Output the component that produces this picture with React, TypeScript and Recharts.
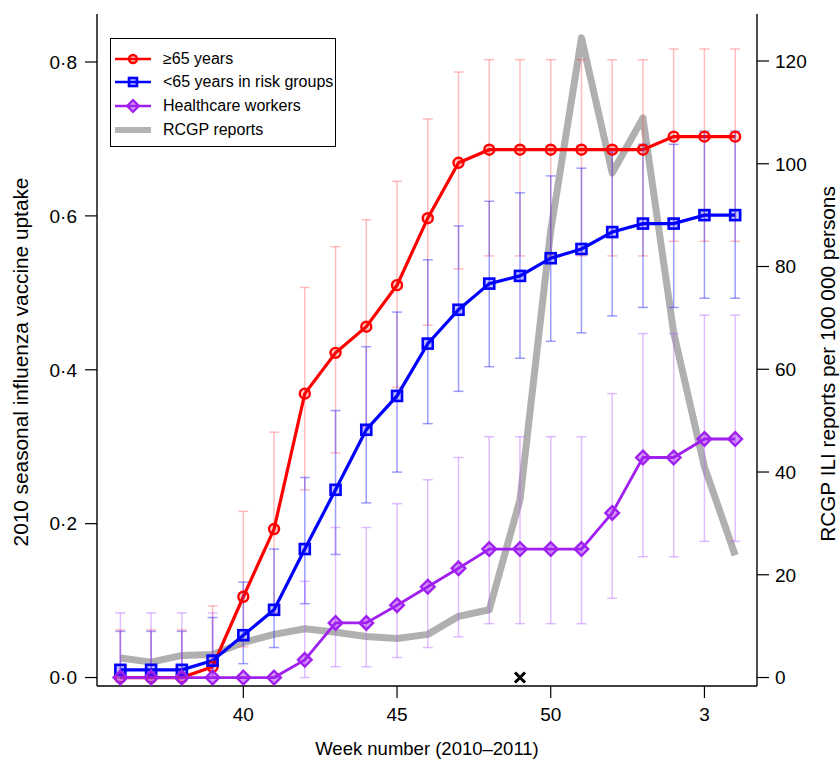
import { ComposedChart, Line, XAxis, YAxis, ErrorBar, Scatter, Legend, Label } from 'recharts';

// ISO weeks, 2010 season into 2011
const weeks = [36, 37, 38, 39, 40, 41, 42, 43, 44, 45, 46, 47, 48, 49, 50, 51, 52, 1, 2, 3, 4];
const tickWeeks = [40, 45, 50, 3];
const markedWeeks = [49];

// vaccine uptake, >=65 years
const over65 = [0, 0, 0, 0.014, 0.105, 0.193, 0.369, 0.422, 0.456, 0.51, 0.597, 0.669, 0.686, 0.686, 0.686, 0.686, 0.686, 0.686, 0.703, 0.703, 0.703];
const over65Low = [0, 0, 0, 0, 0.04, 0.084, 0.244, 0.292, 0.326, 0.377, 0.458, 0.531, 0.548, 0.548, 0.548, 0.548, 0.548, 0.548, 0.567, 0.567, 0.567];
const over65High = [0.062, 0.062, 0.062, 0.093, 0.216, 0.319, 0.507, 0.56, 0.595, 0.645, 0.726, 0.787, 0.803, 0.803, 0.803, 0.803, 0.803, 0.803, 0.817, 0.817, 0.817];

// <65 years in risk groups
const under65 = [0.01, 0.01, 0.01, 0.022, 0.055, 0.088, 0.167, 0.244, 0.322, 0.366, 0.434, 0.478, 0.512, 0.522, 0.545, 0.557, 0.579, 0.59, 0.59, 0.601, 0.601];
const under65Low = [0, 0, 0, 0, 0.018, 0.039, 0.096, 0.16, 0.227, 0.267, 0.33, 0.372, 0.404, 0.415, 0.437, 0.448, 0.47, 0.481, 0.481, 0.493, 0.493];
const under65High = [0.06, 0.06, 0.06, 0.078, 0.124, 0.167, 0.26, 0.347, 0.43, 0.475, 0.543, 0.587, 0.619, 0.63, 0.652, 0.662, 0.683, 0.693, 0.693, 0.71, 0.71];

// healthcare workers
const hcw = [0, 0, 0, 0, 0, 0, 0.023, 0.071, 0.071, 0.094, 0.118, 0.142, 0.167, 0.167, 0.167, 0.167, 0.214, 0.286, 0.286, 0.31, 0.31];
const hcwLow = [0, 0, 0, 0, 0, 0, 0, 0.014, 0.014, 0.026, 0.039, 0.053, 0.07, 0.07, 0.07, 0.07, 0.103, 0.157, 0.157, 0.177, 0.177];
const hcwHigh = [0.084, 0.084, 0.084, 0.084, 0, 0, 0.125, 0.195, 0.195, 0.226, 0.257, 0.286, 0.313, 0.313, 0.313, 0.313, 0.369, 0.447, 0.447, 0.471, 0.471];

// RCGP ILI reports per 100 000
const rcgp = [3.8, 3.0, 4.3, 4.5, 6.8, 8.4, 9.5, 8.8, 8.0, 7.6, 8.4, 11.9, 13.2, 34.6, 87, 124.5, 98.2, 108.9, 67.1, 41, 23.8];

const legendItems = [
  { label: '≥65 years', color: '#ff0000', shape: 'circle' },
  { label: '<65 years in risk groups', color: '#0000ff', shape: 'square' },
  { label: 'Healthcare workers', color: '#a020f0', shape: 'diamond' },
  { label: 'RCGP reports', color: '#b3b3b3', shape: 'none' },
];

const data = weeks.map((w, i) => ({
  idx: i,
  week: w,
  over65: over65[i],
  over65Err: [over65[i] - over65Low[i], over65High[i] - over65[i]],
  under65: under65[i],
  under65Err: [under65[i] - under65Low[i], under65High[i] - under65[i]],
  hcw: hcw[i],
  hcwErr: [hcw[i] - hcwLow[i], hcwHigh[i] - hcw[i]],
  rcgp: rcgp[i],
}));

const markData = markedWeeks.map((w) => ({ idx: weeks.indexOf(w), mark: 0 }));

const FONT = '"Liberation Sans", Arial, Helvetica, sans-serif';

const Marker = ({ cx, cy, shape, color, size = 5 }: any) => {
  if (cx == null || cy == null) return null;
  if (shape === 'circle')
    return <circle cx={cx} cy={cy} r={size} fill={color} fillOpacity={0.2} stroke={color} strokeWidth={2.4} />;
  if (shape === 'square')
    return <rect x={cx - size} y={cy - size} width={size * 2} height={size * 2} fill={color} fillOpacity={0.25} stroke={color} strokeWidth={2.6} />;
  if (shape === 'diamond') {
    const s = size + 1.8;
    return (
      <polygon
        points={`${cx},${cy - s} ${cx + s},${cy} ${cx},${cy + s} ${cx - s},${cy}`}
        fill={color}
        fillOpacity={0.45}
        stroke={color}
        strokeWidth={2.4}
      />
    );
  }
  return null;
};

const dotFor = (shape: string, color: string) => (p: any) => <Marker key={p.index} cx={p.cx} cy={p.cy} shape={shape} color={color} />;

const Cross = ({ cx, cy }: any) => (
  <g stroke="#000" strokeWidth={3}>
    <line x1={cx - 5} y1={cy - 5} x2={cx + 5} y2={cy + 5} />
    <line x1={cx - 5} y1={cy + 5} x2={cx + 5} y2={cy - 5} />
  </g>
);

const LegendBox = () => (
  <div style={{ border: '1.5px solid #000', background: '#fff', width: 226, height: 109, paddingTop: 8, boxSizing: 'border-box', fontFamily: FONT, fontSize: 16 }}>
    {legendItems.map((it) => (
      <div key={it.label} style={{ display: 'flex', alignItems: 'center', height: 23.6 }}>
        <svg width={52} height={20} style={{ flex: 'none' }}>
          <line x1={4} y1={10} x2={40} y2={10} stroke={it.color} strokeWidth={it.shape === 'none' ? 6 : 2.5} />
          <Marker cx={22} cy={10} shape={it.shape} color={it.color} size={4} />
        </svg>
        <span style={{ color: '#000', whiteSpace: 'nowrap' }}>{it.label}</span>
      </div>
    ))}
  </div>
);

export default function App() {
  const domainX: [number, number] = [-0.76, 20.71];
  return (
    <div style={{ position: 'absolute', left: 0, top: 0, background: '#fff' }}>
      <ComposedChart width={840} height={761} data={data} margin={{ top: 14, right: 0, bottom: 0, left: 0 }} style={{ fontFamily: FONT }}>
        <XAxis
          dataKey="idx"
          type="number"
          domain={domainX}
          allowDataOverflow
          ticks={tickWeeks.map((w) => weeks.indexOf(w))}
          tickFormatter={(v: number) => String(weeks[v])}
          height={75}
          tickSize={12}
          tickMargin={10}
          axisLine={{ stroke: '#000', strokeWidth: 1.4 }}
          tickLine={{ stroke: '#000', strokeWidth: 1.2 }}
          tick={{ fill: '#000', fontSize: 19 }}
        >
          <Label
            content={() => (
              <text x={427} y={748} textAnchor="middle" dominantBaseline="central" fontSize={18.5} fill="#000">
                Week number (2010–2011)
              </text>
            )}
          />
        </XAxis>
        <XAxis xAxisId="top" orientation="top" dataKey="idx" type="number" domain={domainX} allowDataOverflow height={0} tick={false} tickLine={false} axisLine={{ stroke: '#000', strokeWidth: 1.4 }} />
        <YAxis
          yAxisId="left"
          type="number"
          domain={[-0.011, 0.8624]}
          allowDataOverflow
          ticks={[0, 0.2, 0.4, 0.6, 0.8]}
          tickFormatter={(v: number) => v.toFixed(1).replace('.', '·')}
          width={97}
          tickSize={12}
          tickMargin={8}
          axisLine={{ stroke: '#000', strokeWidth: 1.4 }}
          tickLine={{ stroke: '#000', strokeWidth: 1.2 }}
          tick={{ fill: '#000', fontSize: 19 }}
        >
          <Label
            content={() => (
              <text x={20} y={362} transform="rotate(-90 20 362)" textAnchor="middle" dominantBaseline="central" fontSize={20.8} fill="#000">
                2010 seasonal influenza vaccine uptake
              </text>
            )}
          />
        </YAxis>
        <YAxis
          yAxisId="right"
          orientation="right"
          type="number"
          domain={[-1.65, 129.15]}
          allowDataOverflow
          ticks={[0, 20, 40, 60, 80, 100, 120]}
          width={83}
          tickSize={12}
          tickMargin={6}
          axisLine={{ stroke: '#000', strokeWidth: 1.4 }}
          tickLine={{ stroke: '#000', strokeWidth: 1.2 }}
          tick={{ fill: '#000', fontSize: 19 }}
        >
          <Label
            content={() => (
              <text x={827} y={364} transform="rotate(-90 827 364)" textAnchor="middle" dominantBaseline="central" fontSize={20.8} fill="#000">
                RCGP ILI reports per 100 000 persons
              </text>
            )}
          />
        </YAxis>
        <Legend layout="vertical" align="center" verticalAlign="middle" content={() => <LegendBox />} wrapperStyle={{ left: 110, top: 38, width: 'auto', height: 'auto' }} />

        <Line yAxisId="right" dataKey="rcgp" stroke="#b0b0b0" strokeWidth={7} strokeLinejoin="round" dot={false} activeDot={false} isAnimationActive={false} legendType="none" />

        <Line yAxisId="left" dataKey="over65" stroke="#ff0000" strokeWidth={3.2} dot={dotFor('circle', '#ff0000')} activeDot={false} isAnimationActive={false}>
          <ErrorBar dataKey="over65Err" direction="y" width={5} stroke="rgba(255,70,70,0.35)" strokeWidth={1.5} isAnimationActive={false} />
        </Line>
        <Line yAxisId="left" dataKey="under65" stroke="#0000ff" strokeWidth={3.2} dot={dotFor('square', '#0000ff')} activeDot={false} isAnimationActive={false}>
          <ErrorBar dataKey="under65Err" direction="y" width={5} stroke="rgba(60,60,255,0.5)" strokeWidth={1.5} isAnimationActive={false} />
        </Line>
        <Line yAxisId="left" dataKey="hcw" stroke="#a020f0" strokeWidth={2.8} dot={dotFor('diamond', '#a020f0')} activeDot={false} isAnimationActive={false}>
          <ErrorBar dataKey="hcwErr" direction="y" width={5} stroke="rgba(180,90,255,0.4)" strokeWidth={1.5} isAnimationActive={false} />
        </Line>

        <Scatter yAxisId="left" data={markData} dataKey="mark" shape={<Cross />} isAnimationActive={false} legendType="none" />
      </ComposedChart>
    </div>
  );
}
